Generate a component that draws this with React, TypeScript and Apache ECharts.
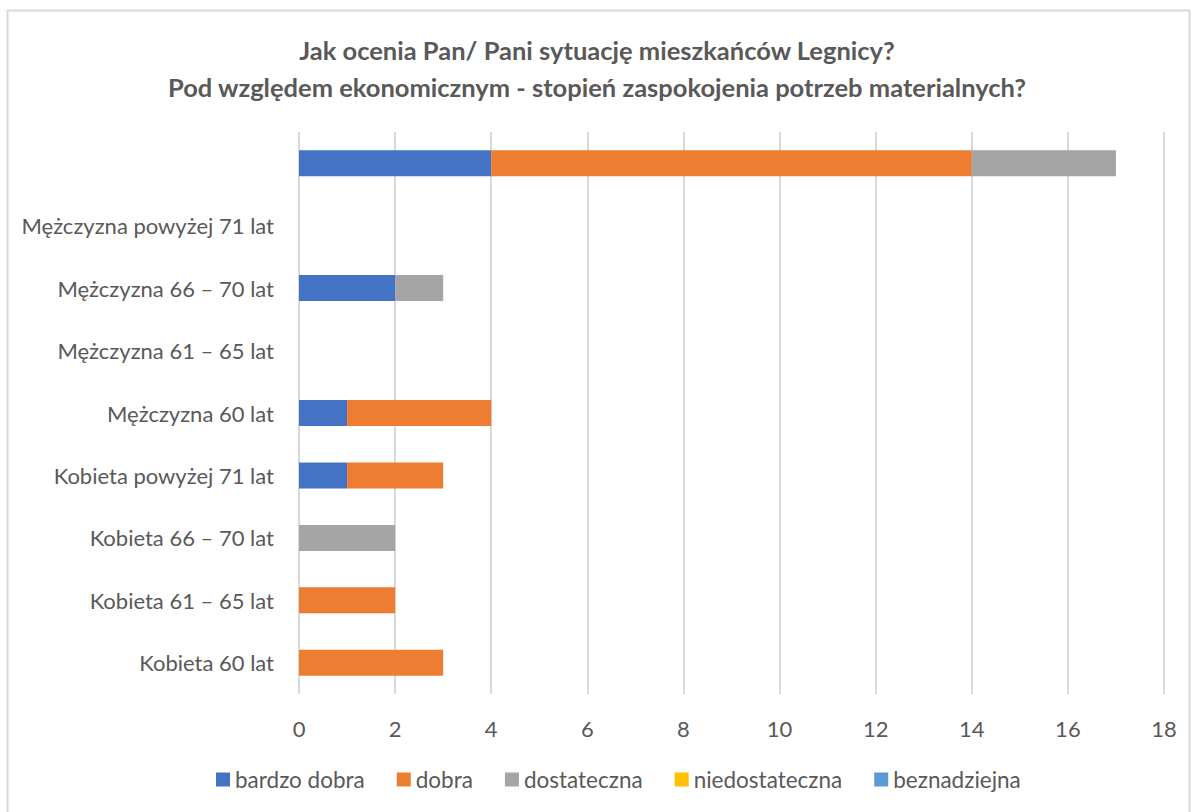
import React, { useEffect, useRef } from "react";
import * as echarts from "echarts";

const categories = [
  "Kobieta 60 lat",
  "Kobieta 61 – 65 lat",
  "Kobieta 66 – 70 lat",
  "Kobieta powyżej 71 lat",
  "Mężczyzna 60 lat",
  "Mężczyzna 61 – 65 lat",
  "Mężczyzna 66 – 70 lat",
  "Mężczyzna powyżej 71 lat",
  "",
];
const seriesNames = ["bardzo dobra", "dobra", "dostateczna", "niedostateczna", "beznadziejna"];
const bardzoDobra = [0, 0, 0, 1, 1, 0, 2, 0, 4];
const dobra = [3, 2, 0, 2, 3, 0, 0, 0, 10];
const dostateczna = [0, 0, 2, 0, 0, 0, 1, 0, 3];
const niedostateczna = [0, 0, 0, 0, 0, 0, 0, 0, 0];
const beznadziejna = [0, 0, 0, 0, 0, 0, 0, 0, 0];
const colors = ["#4472C4", "#ED7D31", "#A5A5A5", "#FFC000", "#5B9BD5"];
const titleLines = [
  "Jak ocenia Pan/ Pani sytuację mieszkańców Legnicy?",
  "Pod względem ekonomicznym - stopień zaspokojenia potrzeb materialnych?",
];

export default function App() {
  const ref = useRef<HTMLDivElement>(null);
  useEffect(() => {
    const chart = echarts.init(ref.current!, null, { renderer: "svg" });
    const values = [bardzoDobra, dobra, dostateczna, niedostateczna, beznadziejna];
    const font = "Lato, 'Open Sans', sans-serif";
    chart.setOption({
      animation: false,
      backgroundColor: "#ffffff",
      textStyle: { fontFamily: font },
      title: {
        text: titleLines.join("\n"),
        left: "center",
        top: 26,
        textStyle: { fontSize: 25.5, fontWeight: "bold", color: "#595959", lineHeight: 37, fontFamily: font },
      },
      legend: {
        bottom: 16,
        left: 211,
        itemWidth: 14,
        itemHeight: 14,
        itemGap: 32,
        itemStyle: { borderWidth: 0 },
        icon: "rect",
        textStyle: { fontSize: 22.5, color: "#595959", fontFamily: font },
        data: seriesNames,
      },
      grid: { left: 299, right: 30, top: 132, bottom: 118, containLabel: false },
      xAxis: {
        type: "value",
        min: 0,
        max: 18,
        interval: 2,
        axisLine: { show: false },
        axisTick: { show: false },
        splitLine: { lineStyle: { color: "#D9D9D9", width: 2 } },
        axisLabel: { fontSize: 22, color: "#595959", margin: 23, fontFamily: font },
      },
      yAxis: {
        type: "category",
        data: categories,
        axisLine: { show: false },
        axisTick: { show: false },
        axisLabel: { fontSize: 22, color: "#595959", margin: 25, fontFamily: font },
      },
      series: seriesNames.map((name, i) => ({
        name,
        type: "bar",
        stack: "total",
        barWidth: 26,
        data: values[i],
        itemStyle: { color: colors[i] },
      })),
      graphic: [
        {
          type: "rect",
          shape: { x: 7.5, y: 10.5, width: 1182, height: 810 },
          style: { fill: "none", stroke: "#D9D9D9", lineWidth: 2 },
          silent: true,
        },
      ],
    });
    return () => chart.dispose();
  }, []);
  return (
    <div
      ref={ref}
      style={{ position: "absolute", left: 0, top: 0, width: 1194, height: 812 }}
    />
  );
}
